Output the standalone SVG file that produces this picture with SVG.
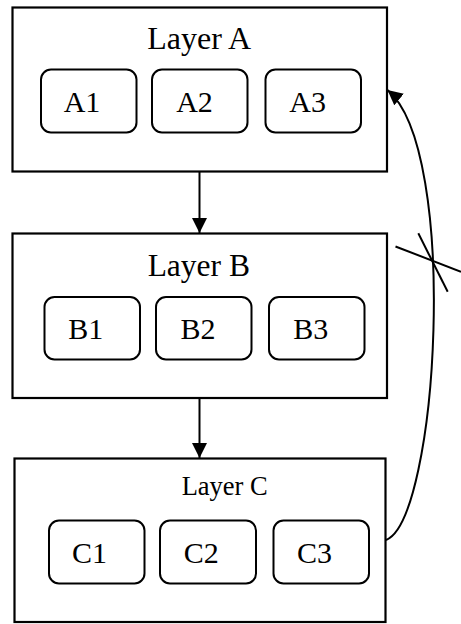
<svg xmlns="http://www.w3.org/2000/svg" width="461" height="624" viewBox="0 0 461 624">
<style>
.layer{fill:#fff;stroke:#000;stroke-width:2.2}
.item{fill:#fff;stroke:#000;stroke-width:2}
.t{font-family:"Liberation Serif","Times New Roman",serif;fill:#000;text-anchor:middle}
.lt{font-size:32px}
.it{font-size:30px}
.ln{fill:none;stroke:#000;stroke-width:2}
</style>
<defs>
<marker id="ah" markerWidth="16" markerHeight="16" refX="15" refY="7.5" orient="auto" markerUnits="userSpaceOnUse">
<path d="M0,0 L15,7.5 L0,15 Z" fill="#000"/>
</marker>
</defs>
<rect width="461" height="624" fill="#fff"/>
<g id="layerA">
<rect class="layer" x="12.5" y="7.5" width="374.5" height="164"/>
<text class="t lt" x="199.2" y="49.3">Layer A</text>
<g id="A1"><rect class="item" x="41" y="69.5" width="95.5" height="63" rx="10"/><text class="t it" x="82" y="111.7">A1</text></g>
<g id="A2"><rect class="item" x="152" y="69.5" width="95.5" height="63" rx="10"/><text class="t it" x="194.5" y="111.7">A2</text></g>
<g id="A3"><rect class="item" x="265.5" y="69.5" width="95.5" height="63" rx="10"/><text class="t it" x="307.7" y="111.7">A3</text></g>
</g>
<g id="layerB">
<rect class="layer" x="12.5" y="233.5" width="374.5" height="164.5"/>
<text class="t lt" x="198.8" y="276" style="font-size:31.5px">Layer B</text>
<g id="B1"><rect class="item" x="44.5" y="297" width="95.5" height="62.5" rx="10"/><text class="t it" x="85.8" y="339">B1</text></g>
<g id="B2"><rect class="item" x="156" y="297" width="95.5" height="62.5" rx="10"/><text class="t it" x="198" y="339">B2</text></g>
<g id="B3"><rect class="item" x="269" y="297" width="95.5" height="62.5" rx="10"/><text class="t it" x="310.8" y="339">B3</text></g>
</g>
<g id="layerC">
<rect class="layer" x="14.5" y="458.5" width="371" height="163.5"/>
<text class="t" x="224.7" y="495" style="font-size:26.5px">Layer C</text>
<g id="C1"><rect class="item" x="49" y="520.5" width="95.5" height="63" rx="10"/><text class="t it" x="89.5" y="562.7">C1</text></g>
<g id="C2"><rect class="item" x="160" y="520.5" width="96" height="63" rx="10"/><text class="t it" x="201.2" y="562.7">C2</text></g>
<g id="C3"><rect class="item" x="273.5" y="520.5" width="95.5" height="63" rx="10"/><text class="t it" x="314.5" y="562.7">C3</text></g>
</g>
<g id="connectors">
<line class="ln" x1="199.5" y1="172" x2="199.5" y2="233" marker-end="url(#ah)"/>
<line class="ln" x1="199.5" y1="398" x2="199.5" y2="458" marker-end="url(#ah)"/>
<path class="ln" d="M386,540 C438,520 460,150 387.5,90" marker-end="url(#ah)"/>
<line class="ln" x1="395.5" y1="246.5" x2="461" y2="271.7"/>
<line class="ln" x1="418.3" y1="233.3" x2="447.7" y2="291.7"/>
</g>
</svg>
